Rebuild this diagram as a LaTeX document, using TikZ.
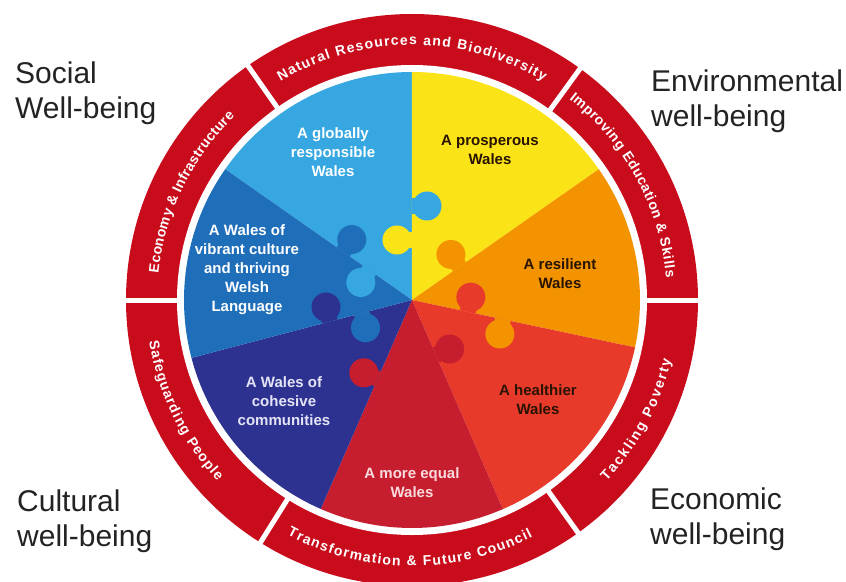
\documentclass[tikz,border=0pt]{standalone}
\usepackage{fontspec}
\setmainfont{Liberation Sans}
\usepackage{xcolor}
\usepackage{tikz}
\usetikzlibrary{decorations.text}

\definecolor{ringred}{RGB}{200,12,28}
\definecolor{skyblue}{RGB}{54,167,224}
\definecolor{walesyellow}{RGB}{250,228,24}
\definecolor{walesorange}{RGB}{243,147,0}
\definecolor{healthred}{RGB}{232,58,42}
\definecolor{equalred}{RGB}{198,30,46}
\definecolor{navyblue}{RGB}{45,50,145}
\definecolor{midblue}{RGB}{30,110,185}
\definecolor{darktext}{RGB}{40,20,0}
\definecolor{equaltext}{RGB}{250,218,222}
\definecolor{cohesivetext}{RGB}{228,228,246}
\definecolor{cornergray}{RGB}{35,35,35}
\newcommand{\ringfont}{\fontsize{14}{16}\selectfont\bfseries}

\begin{document}
\begin{tikzpicture}[x=1pt, y=1pt,
    piece/.style={align=center, inner sep=0pt, font=\bfseries\fontsize{15}{19}\selectfont},
    corner/.style={anchor=north west, align=left, inner sep=0pt, text=cornergray, font=\fontsize{30}{35}\selectfont},
    ringtext/.style={decorate, decoration={text along path, text={|\ringfont|#1}, text align={fit to path}, text color=white}},
    ringgap/.style={white, line width=5pt}
]
    \useasboundingbox (-412,-281) rectangle (434,300);

    \fill[ringred] (0,0) circle (286);
    \fill[white] (0,0) circle (235);
    \foreach \a in {0,54,125,180,238,305.5}
        \draw[ringgap] (\a:230) -- (\a:292);

    \foreach \a/\b/\c in {90/145/skyblue, 35/90/walesyellow, -12/35/walesorange, -66.5/-12/healthred, -113.6/-66.5/equalred, -165.3/-113.6/navyblue, 145/194.7/midblue}
        \fill[\c] (0,0) -- (\a:228) arc[start angle=\a, end angle=\b, radius=228] -- cycle;

    \foreach \ang/\dist/\side/\c in {90/60/1/walesyellow, 90/94/-1/skyblue, 35/58/1/walesorange, -12/57/1/healthred, -12/93/-1/walesorange, -66.5/60/1/equalred, -113.6/86/-1/equalred, 194.7/85/-1/navyblue, 194.7/52/1/midblue, 145/84/-1/midblue, 145/52/1/skyblue}
    {
        \fill[\c, rotate=\ang] (\dist-8,0) rectangle (\dist+8,\side*11);
        \fill[\c, rotate=\ang] (\dist,\side*15) circle (14.5);
    }

    \path[ringtext={Natural Resources and Biodiversity}] (121:255) arc[start angle=121, end angle=59, radius=255];
    \path[ringtext={Improving Education {\&} Skills}] (52:255) arc[start angle=52, end angle=5, radius=255];
    \path[ringtext={Economy {\&} Infrastructure}] (174:255) arc[start angle=174, end angle=134, radius=255];
    \path[ringtext={Tackling Poverty}] (-43:266) arc[start angle=-43, end angle=-13, radius=266];
    \path[ringtext={Transformation {\&} Future Council}] (-118:266) arc[start angle=-118, end angle=-63, radius=266];
    \path[ringtext={Safeguarding People}] (189:266) arc[start angle=189, end angle=223, radius=266];

    \node[piece, text=white] (globally) at (-79,148) {A globally\\responsible\\Wales};
    \node[piece, text=darktext] (prosperous) at (78,150) {A prosperous\\Wales};
    \node[piece, text=darktext] (resilient) at (148,26) {A resilient\\Wales};
    \node[piece, text=darktext] (healthier) at (126,-100) {A healthier\\Wales};
    \node[piece, text=equaltext] (equal) at (0,-183) {A more equal\\Wales};
    \node[piece, text=cohesivetext] (cohesive) at (-128,-101) {A Wales of\\cohesive\\communities};
    \node[piece, text=white] (vibrant) at (-165,30) {A Wales of\\vibrant culture\\and thriving\\Welsh\\Language};

    \node[corner] (social) at (-397,238) {Social\\Well-being};
    \node[corner] (environmental) at (239,230) {Environmental\\well-being};
    \node[corner] (cultural) at (-395,-190) {Cultural\\well-being};
    \node[corner] (economic) at (238,-188) {Economic\\well-being};
\end{tikzpicture}
\end{document}
